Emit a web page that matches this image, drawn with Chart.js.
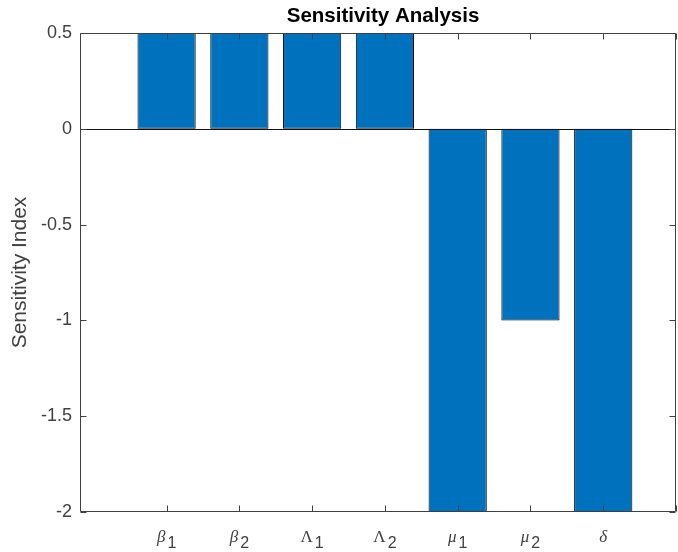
<!DOCTYPE html>
<html>
<head>
<meta charset="utf-8">
<script src="https://cdn.jsdelivr.net/npm/chart.js@4.4.0/dist/chart.umd.min.js"></script>
<style>
  html, body { margin: 0; padding: 0; background: #fff; }
  canvas { display: block; }
</style>
</head>
<body>
<canvas id="sensitivity-chart" width="678" height="552"></canvas>
<script>
// parameters and their sensitivity indices
var paramNames = ['β', 'β', 'Λ', 'Λ', 'μ', 'μ', 'δ'];
var paramSubs = ['1', '2', '1', '2', '1', '2', ''];
var sensitivity = [0.5, 0.5, 0.5, 0.5, -2, -1, -2];
var yTicks = [-2, -1.5, -1, -0.5, 0, 0.5];
var xTicks = [1, 2, 3, 4, 5, 6, 7, 8];

var axisColor = '#404040';
var textColor = '#404040';

var points = [];
sensitivity.forEach((v, i) => {
  points.push({ x: i + 1, y: v });
});

// box, inward ticks and zero baseline like matlab
var matlabAxes = {
  id: 'matlabAxes',
  afterDatasetsDraw: function (chart) {
    var ctx = chart.ctx;
    var a = chart.chartArea;
    var xs = chart.scales.x;
    var ys = chart.scales.y;
    var L = Math.round(a.left) + 0.5, R = Math.round(a.right) - 0.5;
    var T = Math.round(a.top) + 0.5, B = Math.round(a.bottom) - 0.5;
    ctx.save();
    ctx.lineWidth = 1;
    ctx.strokeStyle = '#111';
    ctx.beginPath();
    var y0 = Math.round(ys.getPixelForValue(0)) + 0.5;
    ctx.moveTo(L, y0);
    ctx.lineTo(R, y0);
    ctx.stroke();

    ctx.strokeStyle = axisColor;
    ctx.beginPath();
    ctx.rect(L, T, R - L, B - T);
    xTicks.forEach(function (v) {
      var px = Math.round(xs.getPixelForValue(v)) + 0.5;
      ctx.moveTo(px, B); ctx.lineTo(px, B - 6);
      ctx.moveTo(px, T); ctx.lineTo(px, T + 6);
    });
    yTicks.forEach(function (v) {
      var py = Math.round(ys.getPixelForValue(v)) + 0.5;
      ctx.moveTo(L, py); ctx.lineTo(L + 6, py);
      ctx.moveTo(R, py); ctx.lineTo(R - 6, py);
    });
    ctx.stroke();
    ctx.restore();
  },
  afterDraw: function (chart) {
    var ctx = chart.ctx;
    var a = chart.chartArea;
    var xs = chart.scales.x;
    ctx.save();
    // title
    ctx.fillStyle = '#000';
    ctx.font = 'bold 20.5px "Liberation Sans", Arial, sans-serif';
    ctx.textAlign = 'center';
    ctx.textBaseline = 'alphabetic';
    ctx.fillText('Sensitivity Analysis', (a.left + a.right) / 2 + 5, 22);

    // greek tick labels with subscripts (capital greek upright, like TeX)
    ctx.textAlign = 'left';
    ctx.fillStyle = textColor;
    paramNames.forEach(function (name, i) {
      var px = xs.getPixelForValue(i + 1);
      var gFont = (name === 'Λ' ? '' : 'italic ') + '17px "Liberation Serif", serif';
      var sFont = '16px "Liberation Sans", Arial, sans-serif';
      ctx.font = gFont;
      var w1 = ctx.measureText(name).width;
      ctx.font = sFont;
      var w2 = paramSubs[i] ? ctx.measureText(paramSubs[i]).width + 2 : 0;
      var x0 = px - (w1 + w2) / 2;
      ctx.font = gFont;
      ctx.fillText(name, x0, 542);
      if (paramSubs[i]) {
        ctx.font = sFont;
        ctx.fillText(paramSubs[i], x0 + w1 + 2, 548);
      }
    });
    ctx.restore();
  }
};

var graph = document.getElementById('sensitivity-chart').getContext('2d');
new Chart(graph, {
  type: 'bar',
  data: {
    datasets: [
      {
        label: 'Sensitivity Index',
        data: points,
        backgroundColor: '#0072BD',
        borderColor: '#000',
        borderWidth: 1,
        borderSkipped: false,
        categoryPercentage: 1,
        barPercentage: 0.8,
      },
    ],
  },
  options: {
    responsive: false,
    devicePixelRatio: 1,
    animation: false,
    layout: { padding: { top: 33, right: 2, left: 0, bottom: 0 } },
    plugins: {
      legend: { display: false },
      tooltip: { enabled: false },
      title: { display: false },
    },
    scales: {
      x: {
        type: 'linear',
        min: -0.19,
        max: 8,
        offset: false,
        afterBuildTicks: function (scale) {
          scale.ticks = xTicks.map((v) => ({ value: v }));
        },
        afterFit: function (scale) {
          scale.height = 40;
        },
        ticks: { display: false },
        grid: { display: false, drawTicks: false, offset: false },
        border: { display: false },
      },
      y: {
        min: -2,
        max: 0.5,
        afterBuildTicks: function (scale) {
          scale.ticks = yTicks.map((v) => ({ value: v }));
        },
        afterFit: function (scale) {
          scale.width = 80;
        },
        ticks: {
          color: textColor,
          padding: 8,
          font: { family: '"Liberation Sans", Arial, sans-serif', size: 18 },
          callback: function (v) {
            return String(v);
          },
        },
        grid: { display: false, drawTicks: false },
        border: { display: false },
        title: {
          display: true,
          text: 'Sensitivity Index',
          color: textColor,
          padding: { top: 8, bottom: 0 },
          font: { family: '"Liberation Sans", Arial, sans-serif', size: 21 },
        },
      },
    },
  },
  plugins: [matlabAxes],
});
</script>
</body>
</html>
